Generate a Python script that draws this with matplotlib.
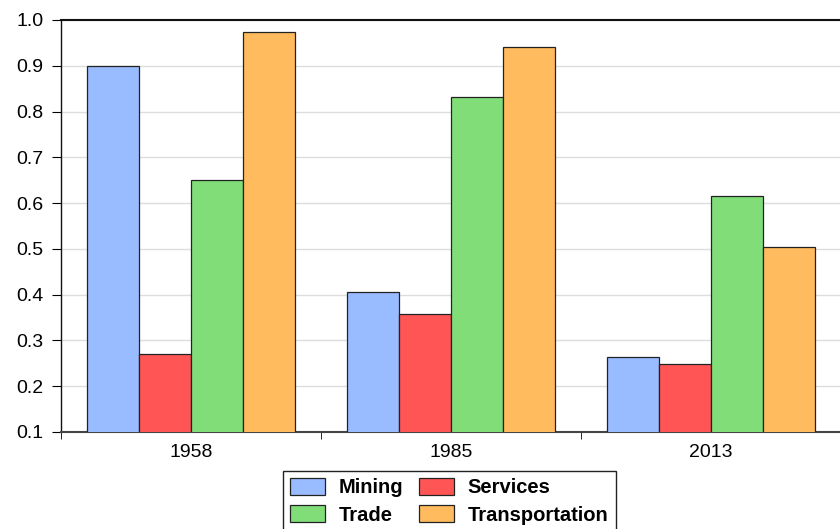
import matplotlib.pyplot as plt
import numpy as np

years = ['1958', '1985', '2013']
series = ['Mining', 'Services', 'Trade', 'Transportation']
mining = [0.900, 0.406, 0.264]
services = [0.270, 0.358, 0.249]
trade = [0.651, 0.832, 0.616]
transportation = [0.974, 0.941, 0.504]
colors = ['#99bbff', '#ff5555', '#80dd77', '#ffbb5e']

plt.rcParams['font.family'] = ['Liberation Sans', 'DejaVu Sans']

fig = plt.figure(figsize=(8.4, 5.29), dpi=100)
ax = fig.add_axes([0.0726, 0.1834, 0.9286, 0.7788])

x = np.arange(len(years))
width = 0.2
values = [mining, services, trade, transportation]
bars = []
for k, (name, vals) in enumerate(zip(series, values)):
    b = ax.bar(x + (k - 1.5) * width, vals, width=width, color=colors[k],
               edgecolor='#222222', linewidth=0.9, label=name, zorder=3)
    bars.append(b)

ax.set_xlim(-0.5, 2.5)
ax.set_ylim(0.1, 1.0)
ax.set_yticks(np.arange(0.1, 1.01, 0.1))
ax.set_yticklabels([f'{v:.1f}' for v in np.arange(0.1, 1.01, 0.1)], fontsize=14)
ax.yaxis.grid(True, color='#dddddd', linewidth=1.0, zorder=0)

ax.set_xticks(x)
ax.set_xticklabels(years, fontsize=14)
ax.tick_params(axis='x', which='major', length=0, pad=9)
ax.set_xticks([-0.5, 0.5, 1.5, 2.5], minor=True)
ax.tick_params(axis='x', which='minor', length=5, direction='out')
ax.tick_params(axis='y', length=6.5, direction='out', pad=6)

for s in ['left', 'bottom', 'top']:
    ax.spines[s].set_color('#111111')
    ax.spines[s].set_linewidth(1.0)
ax.spines['bottom'].set_color('#444444')
ax.spines['bottom'].set_linewidth(1.5)
ax.spines['top'].set_linewidth(1.5)
ax.spines['right'].set_visible(False)

# row-major order like the original: Mining, Services / Trade, Transportation
order = [0, 2, 1, 3]
leg = ax.legend([bars[i] for i in order], [series[i] for i in order],
                ncol=2, loc='upper center', bbox_to_anchor=(0.535, 0.11),
                bbox_transform=fig.transFigure, frameon=True, fancybox=False,
                edgecolor='#222222', framealpha=1,
                prop={'weight': 'bold', 'size': 14.5},
                handlelength=1.7, handleheight=0.9, columnspacing=0.8,
                handletextpad=0.7, labelspacing=0.4, borderpad=0.35,
                borderaxespad=0)
leg.get_frame().set_linewidth(1.0)

fig.savefig('out.png', dpi=100)
